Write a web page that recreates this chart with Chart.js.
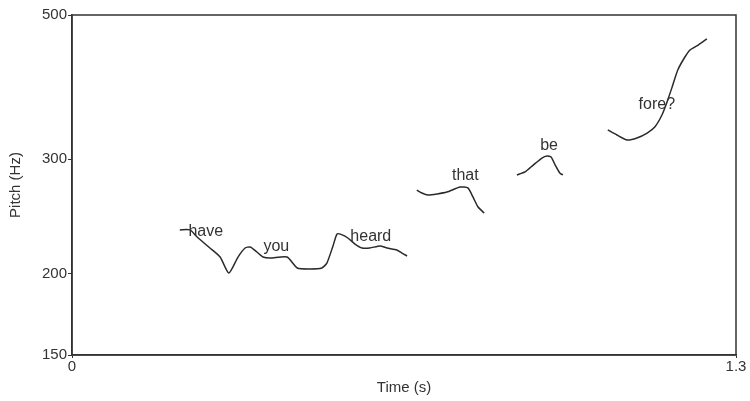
<!DOCTYPE html>
<html>
<head>
<meta charset="utf-8">
<script src="https://cdn.jsdelivr.net/npm/chart.js@4"></script>
<style>
  html, body { margin: 0; padding: 0; background: #fff; }
  #wrap { width: 750px; height: 401px; }
</style>
</head>
<body>
<div id="wrap"><canvas id="myChart" width="750" height="401"></canvas></div>
<script>
// pitch contour, one array pair per voiced stretch
const seg1Time = [0.211, 0.231, 0.245, 0.270, 0.290, 0.307, 0.325, 0.339, 0.349, 0.362, 0.374, 0.388, 0.421, 0.441, 0.466, 0.489, 0.499, 0.511, 0.519, 0.529, 0.540, 0.554, 0.568, 0.583, 0.603, 0.617, 0.636, 0.646, 0.656]
const seg1Hz = [233.6, 233.6, 227.8, 219.1, 212.2, 200.5, 212.2, 219.1, 219.9, 216.0, 212.2, 211.4, 212.2, 204.1, 203.4, 204.1, 207.7, 220.7, 230.3, 229.5, 227.0, 222.2, 219.1, 219.1, 220.7, 219.1, 217.6, 215.2, 213.0]

const seg2Time = [0.675, 0.685, 0.697, 0.715, 0.734, 0.760, 0.775, 0.785, 0.795, 0.807]
const seg2Hz = [269.0, 266.2, 264.3, 265.3, 267.1, 271.9, 271.0, 262.5, 253.3, 248.0]

const seg3Time = [0.871, 0.887, 0.903, 0.920, 0.930, 0.938, 0.946, 0.955, 0.961]
const seg3Hz = [283.8, 286.8, 293.9, 301.3, 303.5, 302.4, 293.9, 285.8, 283.8]

const seg4Time = [1.049, 1.067, 1.087, 1.106, 1.126, 1.141, 1.155, 1.165, 1.175, 1.186, 1.200, 1.210, 1.226, 1.243]
const seg4Hz = [332.8, 326.9, 321.2, 323.5, 329.2, 336.3, 350.9, 367.5, 387.5, 411.5, 430.9, 441.7, 449.6, 459.3]

// words placed over the contour
const words = ['have', 'you', 'heard', 'that', 'be', 'fore?']
const wordTime = [0.262, 0.400, 0.585, 0.770, 0.934, 1.145]
const wordHz = [232.5, 219.9, 227.8, 282.8, 314.4, 363.6]

const yTicks = [150, 200, 300, 500]
const xTicks = [0, 1.3]

const FONT = 'Liberation Sans, Arial, sans-serif'
const INK = '#333'

function toPoints(ts, hs) {
  return ts.map((t, i) => ({x: t, y: hs[i]}))
}

function segment(ts, hs) {
  return {
    data: toPoints(ts, hs),
    borderColor: '#2a2a2a',
    borderWidth: 1.5,
    pointRadius: 0,
    tension: 0.2,
    fill: false
  }
}

// box round the plot + the words
const extras = {
  id: 'extras',
  afterDatasetsDraw(chart) {
    const {ctx, chartArea, scales} = chart
    ctx.save()
    ctx.strokeStyle = '#333'
    ctx.lineWidth = 1.5
    ctx.strokeRect(chartArea.left, chartArea.top, chartArea.right - chartArea.left, chartArea.bottom - chartArea.top)
    ctx.fillStyle = INK
    ctx.font = '16px ' + FONT
    ctx.textAlign = 'center'
    ctx.textBaseline = 'middle'
    words.forEach((w, i) => {
      ctx.fillText(w, scales.x.getPixelForValue(wordTime[i]), scales.y.getPixelForValue(wordHz[i]))
    })
    ctx.restore()
  }
}

const ctx = document.getElementById('myChart').getContext('2d')
const chart = new Chart(ctx, {
  type: 'line',
  data: {
    datasets: [
      segment(seg1Time, seg1Hz),
      segment(seg2Time, seg2Hz),
      segment(seg3Time, seg3Hz),
      segment(seg4Time, seg4Hz)
    ]
  },
  options: {
    responsive: false,
    animation: false,
    layout: { padding: {left: 0, right: 14, top: 15, bottom: 0} },
    plugins: { legend: {display: false}, tooltip: {enabled: false} },
    scales: {
      x: {
        type: 'linear',
        min: 0,
        max: 1.3,
        afterBuildTicks: s => { s.ticks = xTicks.map(v => ({value: v})) },
        afterFit: s => { s.height = 46 },
        ticks: {
          color: INK,
          font: {size: 15, family: FONT},
          padding: 0,
          maxRotation: 0,
          callback: v => String(v)
        },
        grid: { drawOnChartArea: false, tickLength: 3, color: '#333' },
        border: { color: '#333', width: 1.5 },
        title: { display: true, text: 'Time (s)', color: INK, font: {size: 15, family: FONT}, padding: {top: 0, bottom: 4} }
      },
      y: {
        type: 'logarithmic',
        min: 150,
        max: 500,
        afterBuildTicks: s => { s.ticks = yTicks.map(v => ({value: v})) },
        afterFit: s => { s.width = 72 },
        ticks: {
          color: INK,
          font: {size: 15, family: FONT},
          padding: 1,
          callback: v => String(v)
        },
        grid: { drawOnChartArea: false, tickLength: 4, color: '#333' },
        border: { color: '#333', width: 1.5 },
        title: { display: true, text: 'Pitch (Hz)', color: INK, font: {size: 15, family: FONT}, padding: {top: 7, bottom: 0} }
      }
    }
  },
  plugins: [extras]
})
</script>
</body>
</html>
